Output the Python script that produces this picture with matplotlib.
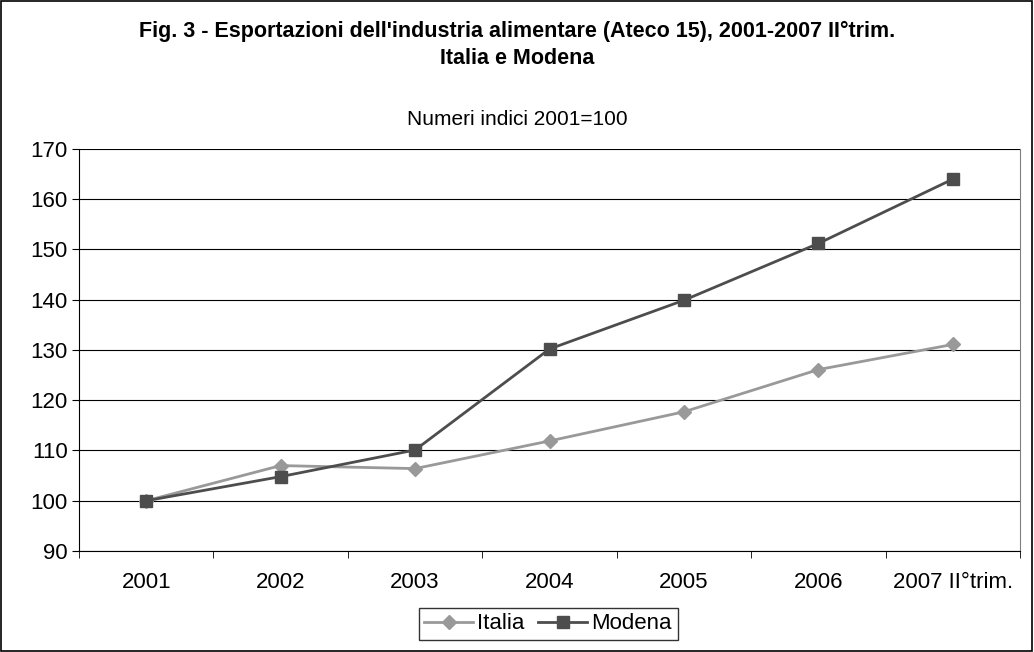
import numpy as np
import matplotlib.pyplot as plt
from matplotlib.patches import Rectangle

plt.rcParams['font.family'] = ['Liberation Sans', 'DejaVu Sans']

# data
anni = ['2001', '2002', '2003', '2004', '2005', '2006', '2007 II°trim.']
italia = [100.0, 107.0, 106.4, 111.9, 117.7, 126.1, 131.1]
modena = [100.0, 104.8, 110.1, 130.2, 139.9, 151.2, 164.0]

fig = plt.figure(figsize=(10.34, 6.52), dpi=100)
ax = fig.add_axes([0.0764, 0.1549, 0.9101, 0.6166])

x = np.arange(len(anni))
ax.plot(x, italia, color='#999999', lw=2, marker='D', ms=7, label='Italia')
ax.plot(x, modena, color='#4d4d4d', lw=2, marker='s', ms=8.5, label='Modena')

ax.set_xlim(-0.5, len(anni) - 0.5)
ax.set_ylim(90, 170)
ax.set_yticks(np.arange(90, 171, 10))
ax.set_xticks(x)
ax.set_xticklabels(anni)
ax.set_xticks(np.arange(-0.5, len(anni), 1), minor=True)
ax.tick_params(axis='x', which='major', length=0, pad=15, labelsize=16)
ax.tick_params(axis='x', which='minor', length=5, direction='out', color='black')
ax.tick_params(axis='y', length=5, direction='out', labelsize=16, pad=3)
ax.grid(axis='y', color='black', lw=0.8)
ax.set_axisbelow(True)

ax.spines['top'].set_visible(False)
ax.spines['right'].set_color('#808080')
ax.spines['left'].set_color('black')
ax.spines['bottom'].set_color('black')

fig.text(0.5, 0.952, "Fig. 3 - Esportazioni dell'industria alimentare (Ateco 15), 2001-2007 II°trim.",
         ha='center', va='center', fontsize=15.5, fontweight='bold')
fig.text(0.5, 0.911, 'Italia e Modena', ha='center', va='center', fontsize=15.5, fontweight='bold')
fig.text(0.5, 0.817, 'Numeri indici 2001=100', ha='center', va='center', fontsize=15)

leg = fig.legend(loc='center', bbox_to_anchor=(0.53, 0.043), ncol=2, fontsize=16,
                 frameon=True, fancybox=False, edgecolor='black', handlelength=2.2,
                 handletextpad=0.2, columnspacing=0.6, borderpad=0.25)
leg.get_frame().set_linewidth(1)

fig.patches.append(Rectangle((0.001, 0.001), 0.997, 0.997, transform=fig.transFigure,
                             fill=False, edgecolor='black', lw=1.2))

plt.savefig('out.png', dpi=100)
